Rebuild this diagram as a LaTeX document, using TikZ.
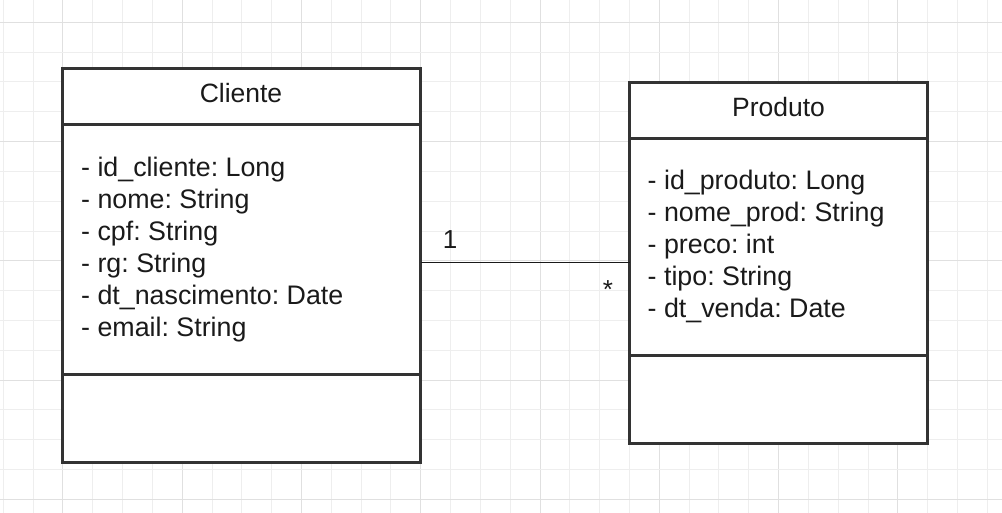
\documentclass[tikz,border=0pt]{standalone}
\usepackage{fontspec}
\setmainfont{Liberation Sans}
\frenchspacing
\definecolor{gridlight}{HTML}{EEEEEE}
\definecolor{griddark}{HTML}{E0E0E0}
\definecolor{boxline}{HTML}{333333}
\definecolor{txt}{HTML}{1A1A1A}
\begin{document}
\begin{tikzpicture}[x=1pt,y=-1pt,
  classbox/.style={draw=boxline, line width=3pt, fill=white, inner sep=0pt, outer sep=0pt, anchor=north west},
  divider/.style={draw=boxline, line width=3pt},
  title/.style={font=\frenchspacing\fontsize{26.5}{32}\selectfont, text=txt, anchor=base, inner sep=0pt},
  attrs/.style={font=\frenchspacing\fontsize{26.8}{32.2}\selectfont, text=txt, anchor=base west, inner sep=0pt, align=left},
  mult/.style={font=\fontsize{26}{31}\selectfont, text=txt, inner sep=0pt},
  assoc/.style={draw=txt, line width=1pt}]
\useasboundingbox (0,0) rectangle (1002,513);
\fill[white] (0,0) rectangle (1002,513);
% grid
\foreach \k in {0,...,33} {
  \pgfmathsetmacro{\gx}{3.3+29.82*\k}
  \pgfmathtruncatemacro{\m}{mod(\k,4)}
  \ifnum\m=2 \draw[griddark, line width=1pt] (\gx,0) -- (\gx,513);
  \else \draw[gridlight, line width=1pt] (\gx,0) -- (\gx,513); \fi
}
\foreach \k in {0,...,16} {
  \pgfmathsetmacro{\gy}{22.3+29.82*\k}
  \pgfmathtruncatemacro{\m}{mod(\k,4)}
  \ifnum\m=0 \draw[griddark, line width=1pt] (0,\gy) -- (1002,\gy);
  \else \draw[gridlight, line width=1pt] (0,\gy) -- (1002,\gy); \fi
}
% Cliente
\node[classbox, minimum width=358pt, minimum height=394pt] (cliente) at (62.5,68.5) {};
\draw[divider] (62.5,124.5) -- (420.5,124.5);
\draw[divider] (62.5,374) -- (420.5,374);
\node[title] (clienteT) at (241,102.5) {Cliente};
\node[attrs] (clienteA) at (81,337) {- id\_cliente: Long\\- nome: String\\- cpf: String\\- rg: String\\- dt\_nascimento: Date\\- email: String};
% Produto
\node[classbox, minimum width=298pt, minimum height=361pt] (produto) at (629.5,82.5) {};
\draw[divider] (629.5,138.5) -- (927.5,138.5);
\draw[divider] (629.5,355.5) -- (927.5,355.5);
\node[title] (produtoT) at (778.5,116.5) {Produto};
\node[attrs] (produtoA) at (647.5,318) {- id\_produto: Long\\- nome\_prod: String\\- preco: int\\- tipo: String\\- dt\_venda: Date};
% association
\draw[assoc] (cliente.east |- produto.west) -- (produto.west);
\node[mult] (m1) at (450,240) {1};
\node[mult] (m2) at (608,290) {*};
\end{tikzpicture}
\end{document}
